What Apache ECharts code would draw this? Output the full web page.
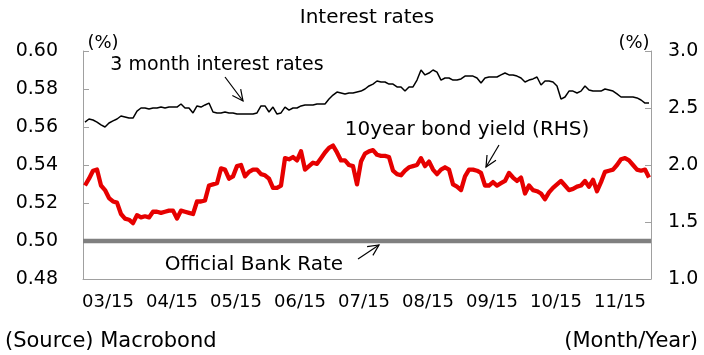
<!DOCTYPE html>
<html><head><meta charset="utf-8">
<script src="https://cdn.jsdelivr.net/npm/echarts@6/dist/echarts.min.js"></script>
<style>html,body{margin:0;padding:0;background:#fff}#c{width:704px;height:355px}</style>
</head><body><div id="c"></div>
<script>
const months = ['03/15','04/15','05/15','06/15','07/15','08/15','09/15','10/15','11/15'];
const leftTicks = {min: 0.48, max: 0.60, interval: 0.02};
const rightTicks = {min: 1.0, max: 3.0, interval: 0.5};
const bankRate = 0.50;
// 3 month interest rates (LHS), sampled ~every other business day, Mar-Nov 2015
const rate3m = [
0.5626,0.5642,0.5637,0.5626,0.5611,0.5600,0.5621,0.5632,0.5642,0.5658,
0.5653,0.5647,0.5647,0.5684,0.5700,0.5700,0.5695,0.5700,0.5700,0.5705,
0.5700,0.5705,0.5705,0.5705,0.5721,0.5700,0.5700,0.5674,0.5711,0.5705,
0.5716,0.5726,0.5679,0.5674,0.5674,0.5679,0.5674,0.5674,0.5668,0.5668,
0.5668,0.5668,0.5668,0.5674,0.5711,0.5711,0.5679,0.5705,0.5668,0.5674,
0.5705,0.5689,0.5700,0.5700,0.5711,0.5716,0.5716,0.5716,0.5721,0.5721,
0.5721,0.5747,0.5768,0.5784,0.5779,0.5774,0.5779,0.5779,0.5784,0.5789,
0.5800,0.5816,0.5826,0.5842,0.5837,0.5837,0.5826,0.5826,0.5811,0.5811,
0.5789,0.5811,0.5811,0.5847,0.5900,0.5874,0.5884,0.5900,0.5889,0.5847,
0.5858,0.5858,0.5847,0.5847,0.5853,0.5868,0.5868,0.5868,0.5858,0.5832,
0.5858,0.5863,0.5863,0.5863,0.5874,0.5884,0.5874,0.5874,0.5868,0.5858,
0.5837,0.5847,0.5853,0.5863,0.5821,0.5842,0.5842,0.5837,0.5816,0.5747,
0.5758,0.5789,0.5789,0.5779,0.5789,0.5816,0.5795,0.5789,0.5789,0.5789,
0.5800,0.5795,0.5789,0.5774,0.5758,0.5758,0.5758,0.5758,0.5753,0.5742,
0.5726,0.5726];
// 10 year bond yield (RHS)
const yield10 = [
1.82,1.88,1.95,1.96,1.82,1.78,1.71,1.68,1.67,1.57,
1.53,1.52,1.49,1.56,1.54,1.55,1.54,1.59,1.59,1.58,
1.59,1.60,1.60,1.53,1.60,1.59,1.58,1.57,1.68,1.68,
1.69,1.82,1.83,1.84,1.97,1.96,1.88,1.90,1.99,2.00,
1.90,1.94,1.96,1.96,1.92,1.91,1.88,1.80,1.80,1.82,
2.06,2.05,2.07,2.04,2.12,1.96,1.99,2.02,2.01,2.06,
2.11,2.15,2.17,2.11,2.04,2.04,2.00,1.99,1.83,2.03,
2.10,2.12,2.13,2.09,2.08,2.08,2.07,1.95,1.92,1.91,
1.95,1.98,1.99,2.00,2.06,1.99,2.03,1.96,1.92,1.96,
1.98,1.96,1.83,1.81,1.78,1.90,1.96,1.96,1.95,1.93,
1.82,1.82,1.85,1.82,1.84,1.86,1.93,1.89,1.86,1.89,
1.75,1.82,1.78,1.77,1.75,1.70,1.76,1.80,1.83,1.86,
1.82,1.78,1.79,1.81,1.82,1.86,1.81,1.87,1.77,1.85,
1.94,1.95,1.96,2.00,2.05,2.06,2.04,2.00,1.96,1.95,
1.96,1.89];

const SLOTS = 142;
const FONT = '"DejaVu Sans", sans-serif';
const toPts = arr => arr.map((v, i) => [i + 0.5, v]);

function arrow(x1, y1, x2, y2) {
  const dx = x2 - x1, dy = y2 - y1, L = Math.hypot(dx, dy);
  const ux = dx / L, uy = dy / L, h = 12, a = Math.PI / 7;
  const p1 = [x2 - h * (ux * Math.cos(a) - uy * Math.sin(a)), y2 - h * (uy * Math.cos(a) + ux * Math.sin(a))];
  const p2 = [x2 - h * (ux * Math.cos(-a) - uy * Math.sin(-a)), y2 - h * (uy * Math.cos(-a) + ux * Math.sin(-a))];
  return [
    {type: 'polyline', shape: {points: [[x1, y1], [x2, y2]]}, style: {stroke: '#000', lineWidth: 1.2, fill: null}},
    {type: 'polyline', shape: {points: [p1, [x2, y2], p2]}, style: {stroke: '#000', lineWidth: 1.2, fill: null}}
  ];
}
function txt(x, y, text, size, align) {
  return {type: 'text', x: x, y: y, style: {text: text, font: size + 'px ' + FONT, fill: '#000', align: align || 'center', verticalAlign: 'middle'}};
}

const chart = echarts.init(document.getElementById('c'), null, {renderer: 'canvas'});
chart.setOption({
  animation: false,
  backgroundColor: '#fff',
  grid: [
    {left: 83, right: 53, top: 51, bottom: 76, containLabel: false},
    {left: 76, right: 52, top: 51, bottom: 76, containLabel: false}
  ],
  xAxis: [
    {type: 'value', gridIndex: 0, min: 0, max: SLOTS,
     axisLine: {show: true, onZero: false, lineStyle: {color: '#a0a0a0', width: 1}},
     axisTick: {show: false}, axisLabel: {show: false}, splitLine: {show: false}},
    {type: 'category', gridIndex: 1, data: months, boundaryGap: true,
     axisLine: {show: false}, axisTick: {show: false}, splitLine: {show: false},
     axisLabel: {color: '#000', fontSize: 18, fontFamily: FONT, margin: 14, interval: 0}}
  ],
  yAxis: [
    {type: 'value', gridIndex: 0, position: 'left', min: leftTicks.min, max: leftTicks.max, interval: leftTicks.interval,
     axisLine: {show: true, lineStyle: {color: '#a0a0a0'}},
     axisTick: {show: true, inside: true, length: 6, lineStyle: {color: '#a0a0a0'}},
     splitLine: {show: false},
     axisLabel: {color: '#000', fontSize: 19, fontFamily: FONT, margin: 25, formatter: v => v.toFixed(2)}},
    {type: 'value', gridIndex: 0, position: 'right', min: rightTicks.min, max: rightTicks.max, interval: rightTicks.interval,
     axisLine: {show: true, lineStyle: {color: '#a0a0a0'}},
     axisTick: {show: true, inside: true, length: 6, lineStyle: {color: '#a0a0a0'}},
     splitLine: {show: false},
     axisLabel: {color: '#000', fontSize: 19, fontFamily: FONT, margin: 17, formatter: v => v.toFixed(1)}},
    {type: 'value', gridIndex: 1, show: false}
  ],
  series: [
    {name: 'Official Bank Rate', type: 'line', xAxisIndex: 0, yAxisIndex: 0, symbol: 'none',
     data: [[0, bankRate], [SLOTS, bankRate]], lineStyle: {color: '#808080', width: 4.5}, silent: true},
    {name: '3 month interest rates', type: 'line', xAxisIndex: 0, yAxisIndex: 0, symbol: 'none',
     data: toPts(rate3m), lineStyle: {color: '#000', width: 1.5}, silent: true},
    {name: '10year bond yield (RHS)', type: 'line', xAxisIndex: 0, yAxisIndex: 1, symbol: 'none',
     data: toPts(yield10), lineStyle: {color: '#e60000', width: 4.3, join: 'round'}, silent: true}
  ],
  graphic: [].concat(
    [txt(367, 18, 'Interest rates', 20),
     txt(103, 43, '(%)', 18),
     txt(634, 43, '(%)', 18),
     txt(217, 65, '3 month interest rates', 19),
     txt(467, 130, '10year bond yield (RHS)', 20),
     txt(254, 265, 'Official Bank Rate', 20),
     txt(5, 342, '(Source) Macrobond', 21, 'left'),
     txt(698, 342, '(Month/Year)', 21, 'right')],
    arrow(225, 77, 243, 101),
    arrow(499, 145, 486, 167),
    arrow(358, 259, 379, 245)
  )
});
</script></body></html>
